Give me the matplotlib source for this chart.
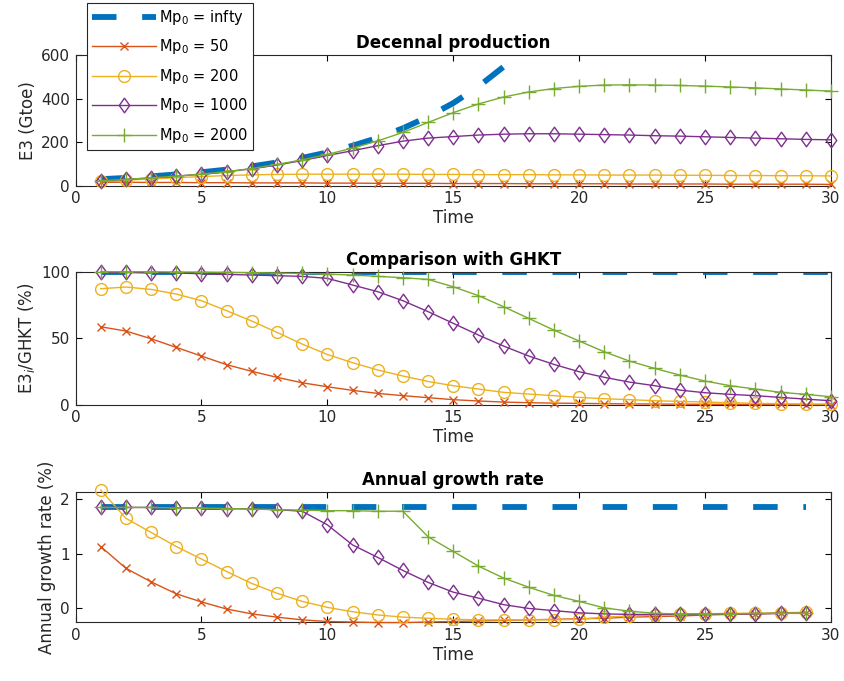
import numpy as np
import matplotlib.pyplot as plt
from matplotlib.path import Path

plt.rcParams['font.family'] = ['DejaVu Sans']

# time steps (decades)
time = list(range(1, 31))
time_g = list(range(1, 30))

# Decennal production E3 (Gtoe)
prod_inf = [29, 35, 42, 51, 61, 73, 88, 106, 127, 152, 183, 219, 263, 316, 379, 455, 546, 655]
prod_50 = [15, 15, 14, 14, 13, 13, 12, 12, 12, 11, 11, 10, 10, 10, 9, 9, 9, 8, 8, 8,
           8, 7, 7, 7, 7, 6, 6, 6, 6, 5]
prod_200 = [20, 25, 30, 36, 41, 46, 49, 51, 52, 52, 52, 52, 52, 51, 51, 50, 50, 50, 49, 49,
            48, 48, 48, 47, 47, 46, 46, 45, 45, 44]
prod_1000 = [22, 28, 35, 43, 52, 63, 77, 94, 115, 138, 160, 183, 204, 218, 225, 232, 236, 238, 238, 236,
             234, 232, 229, 227, 224, 221, 218, 215, 212, 210]
prod_2000 = [22, 28, 35, 43, 52, 64, 78, 97, 118, 143, 172, 205, 244, 290, 335, 375, 407, 430, 446, 456,
             462, 463, 462, 460, 457, 453, 449, 444, 439, 434]

# Comparison with GHKT (%)
cmp_inf = [100] * 30
cmp_50 = [58.6, 55.4, 49.6, 43.1, 36.6, 30.1, 25.1, 20.6, 16.5, 13.5, 10.8, 8.5, 6.8, 5.3, 3.8, 2.8, 2.0, 1.5, 1.2, 1.0,
          0.8, 0.6, 0.5, 0.4, 0.3, 0.3, 0.2, 0.2, 0.1, 0.1]
cmp_200 = [87.2, 88.5, 86.7, 83.2, 78.2, 70.7, 62.9, 54.4, 45.6, 37.8, 31.6, 26.1, 21.6, 17.5, 14.3, 11.8, 9.3, 8.0, 6.8, 5.5,
           4.5, 3.8, 3.0, 2.5, 2.0, 1.5, 1.0, 0.8, 0.5, 0.5]
cmp_1000 = [99.5, 99.5, 99, 99, 98.5, 98, 97.5, 97, 96.5, 95, 90, 85, 78.2, 70, 61.2, 52.4, 44.1, 36.6, 30.3, 24.8,
            20.6, 17, 14.3, 11, 9, 7.8, 6.8, 5.5, 4.2, 3]
cmp_2000 = [100, 100, 100, 99.8, 99.7, 99.5, 99.3, 99, 98.7, 98.2, 97.5, 96.5, 95.5, 94.2, 88.7, 82, 73.7, 64.9, 56.1, 47.9,
            39.8, 32.8, 27.3, 22.3, 17.8, 14.3, 11.8, 9.3, 7.8, 6]

# Annual growth rate (%)
gr_inf = [1.85] * 29
gr_50 = [1.13, 0.73, 0.48, 0.26, 0.11, -0.02, -0.11, -0.17, -0.22, -0.25, -0.26, -0.27, -0.27, -0.26, -0.25, -0.24, -0.23, -0.22, -0.21, -0.2,
         -0.19, -0.17, -0.16, -0.15, -0.13, -0.12, -0.11, -0.1, -0.09]
gr_200 = [2.17, 1.65, 1.39, 1.13, 0.9, 0.67, 0.45, 0.27, 0.12, 0.01, -0.07, -0.13, -0.17, -0.19, -0.21, -0.22, -0.22, -0.22, -0.22, -0.21,
          -0.17, -0.15, -0.13, -0.12, -0.11, -0.1, -0.1, -0.09, -0.08]
gr_1000 = [1.85, 1.85, 1.85, 1.84, 1.84, 1.83, 1.82, 1.81, 1.78, 1.53, 1.16, 0.93, 0.69, 0.47, 0.29, 0.18, 0.06, -0.01, -0.05, -0.09,
           -0.11, -0.12, -0.12, -0.12, -0.12, -0.11, -0.11, -0.1, -0.1]
gr_2000 = [1.85, 1.85, 1.85, 1.84, 1.84, 1.83, 1.82, 1.81, 1.80, 1.79, 1.79, 1.78, 1.78, 1.31, 1.04, 0.77, 0.55, 0.38, 0.23, 0.12,
           0.0, -0.06, -0.1, -0.11, -0.11, -0.11, -0.1, -0.1, -0.1]

labels = ['Mp$_0$ = infty', 'Mp$_0$ = 50', 'Mp$_0$ = 200', 'Mp$_0$ = 1000', 'Mp$_0$ = 2000']
colors = ['#0072BD', '#D95319', '#EDB120', '#7E2F8E', '#77AC30']

# diamond a bit narrower than tall, like the MATLAB one in the picture
diamond = Path([(0, 1), (0.72, 0), (0, -1), (-0.72, 0), (0, 1)],
               [Path.MOVETO, Path.LINETO, Path.LINETO, Path.LINETO, Path.CLOSEPOLY])
markers = [None, 'x', 'o', diamond, '+']
msizes = [0, 6, 8.5, 10.5, 10]

fig = plt.figure(figsize=(8.44, 6.81), dpi=100)
L, W = 0.0895, 0.895
ax1 = fig.add_axes([L, 0.7276, W, 0.1916])
ax2 = fig.add_axes([L, 0.4057, W, 0.1953])
ax3 = fig.add_axes([L, 0.0862, W, 0.1918])


def draw(ax, x, series):
    handles = []
    for i, y in enumerate(series):
        xs = x[:len(y)]
        if i == 0:
            h, = ax.plot(xs, y, color=colors[0], lw=4.2, dashes=(4.2, 4.4),
                         dash_capstyle='butt', label=labels[0], zorder=2)
        else:
            h, = ax.plot(xs, y, color=colors[i], lw=1.0, marker=markers[i],
                         ms=msizes[i], mfc='none', mew=1.0, label=labels[i],
                         clip_on=False, zorder=3)
        handles.append(h)
    return handles


handles = draw(ax1, time, [prod_inf, prod_50, prod_200, prod_1000, prod_2000])
draw(ax2, time, [cmp_inf, cmp_50, cmp_200, cmp_1000, cmp_2000])
draw(ax3, time_g, [gr_inf, gr_50, gr_200, gr_1000, gr_2000])

ax1.set_ylim(0, 600)
ax1.set_yticks([0, 200, 400, 600])
ax2.set_ylim(0, 100)
ax2.set_yticks([0, 50, 100])
ax3.set_ylim(-0.265, 2.14)
ax3.set_yticks([0, 1, 2])

titles = ['Decennal production', 'Comparison with GHKT', 'Annual growth rate']
ylabels = ['E3 (Gtoe)', 'E3$_i$/GHKT (%)', 'Annual growth rate (%)']
for ax, ttl, yl in zip([ax1, ax2, ax3], titles, ylabels):
    ax.set_xlim(0, 30)
    ax.set_xticks([0, 5, 10, 15, 20, 25, 30])
    ax.set_title(ttl, fontsize=12, fontweight='bold', pad=5)
    ax.set_xlabel('Time', fontsize=12, color='#262626', labelpad=2)
    ax.set_ylabel(yl, fontsize=12, color='#262626', labelpad=3)
    ax.tick_params(direction='in', top=True, right=True, length=4, width=0.8,
                   labelsize=11, labelcolor='#262626', pad=4)
    for s in ax.spines.values():
        s.set_color('#262626')
        s.set_linewidth(0.8)

leg = fig.legend(handles=handles, loc='upper left',
                 bbox_to_anchor=(86.7 / 844, 1 - 2.7 / 681),
                 fontsize=10.5, handlelength=4.4, labelspacing=0.72,
                 borderpad=0.35, handletextpad=0.2, fancybox=False,
                 framealpha=1, edgecolor='#262626', borderaxespad=0)
leg.get_frame().set_linewidth(0.8)

fig.savefig('out.png', dpi=100)
